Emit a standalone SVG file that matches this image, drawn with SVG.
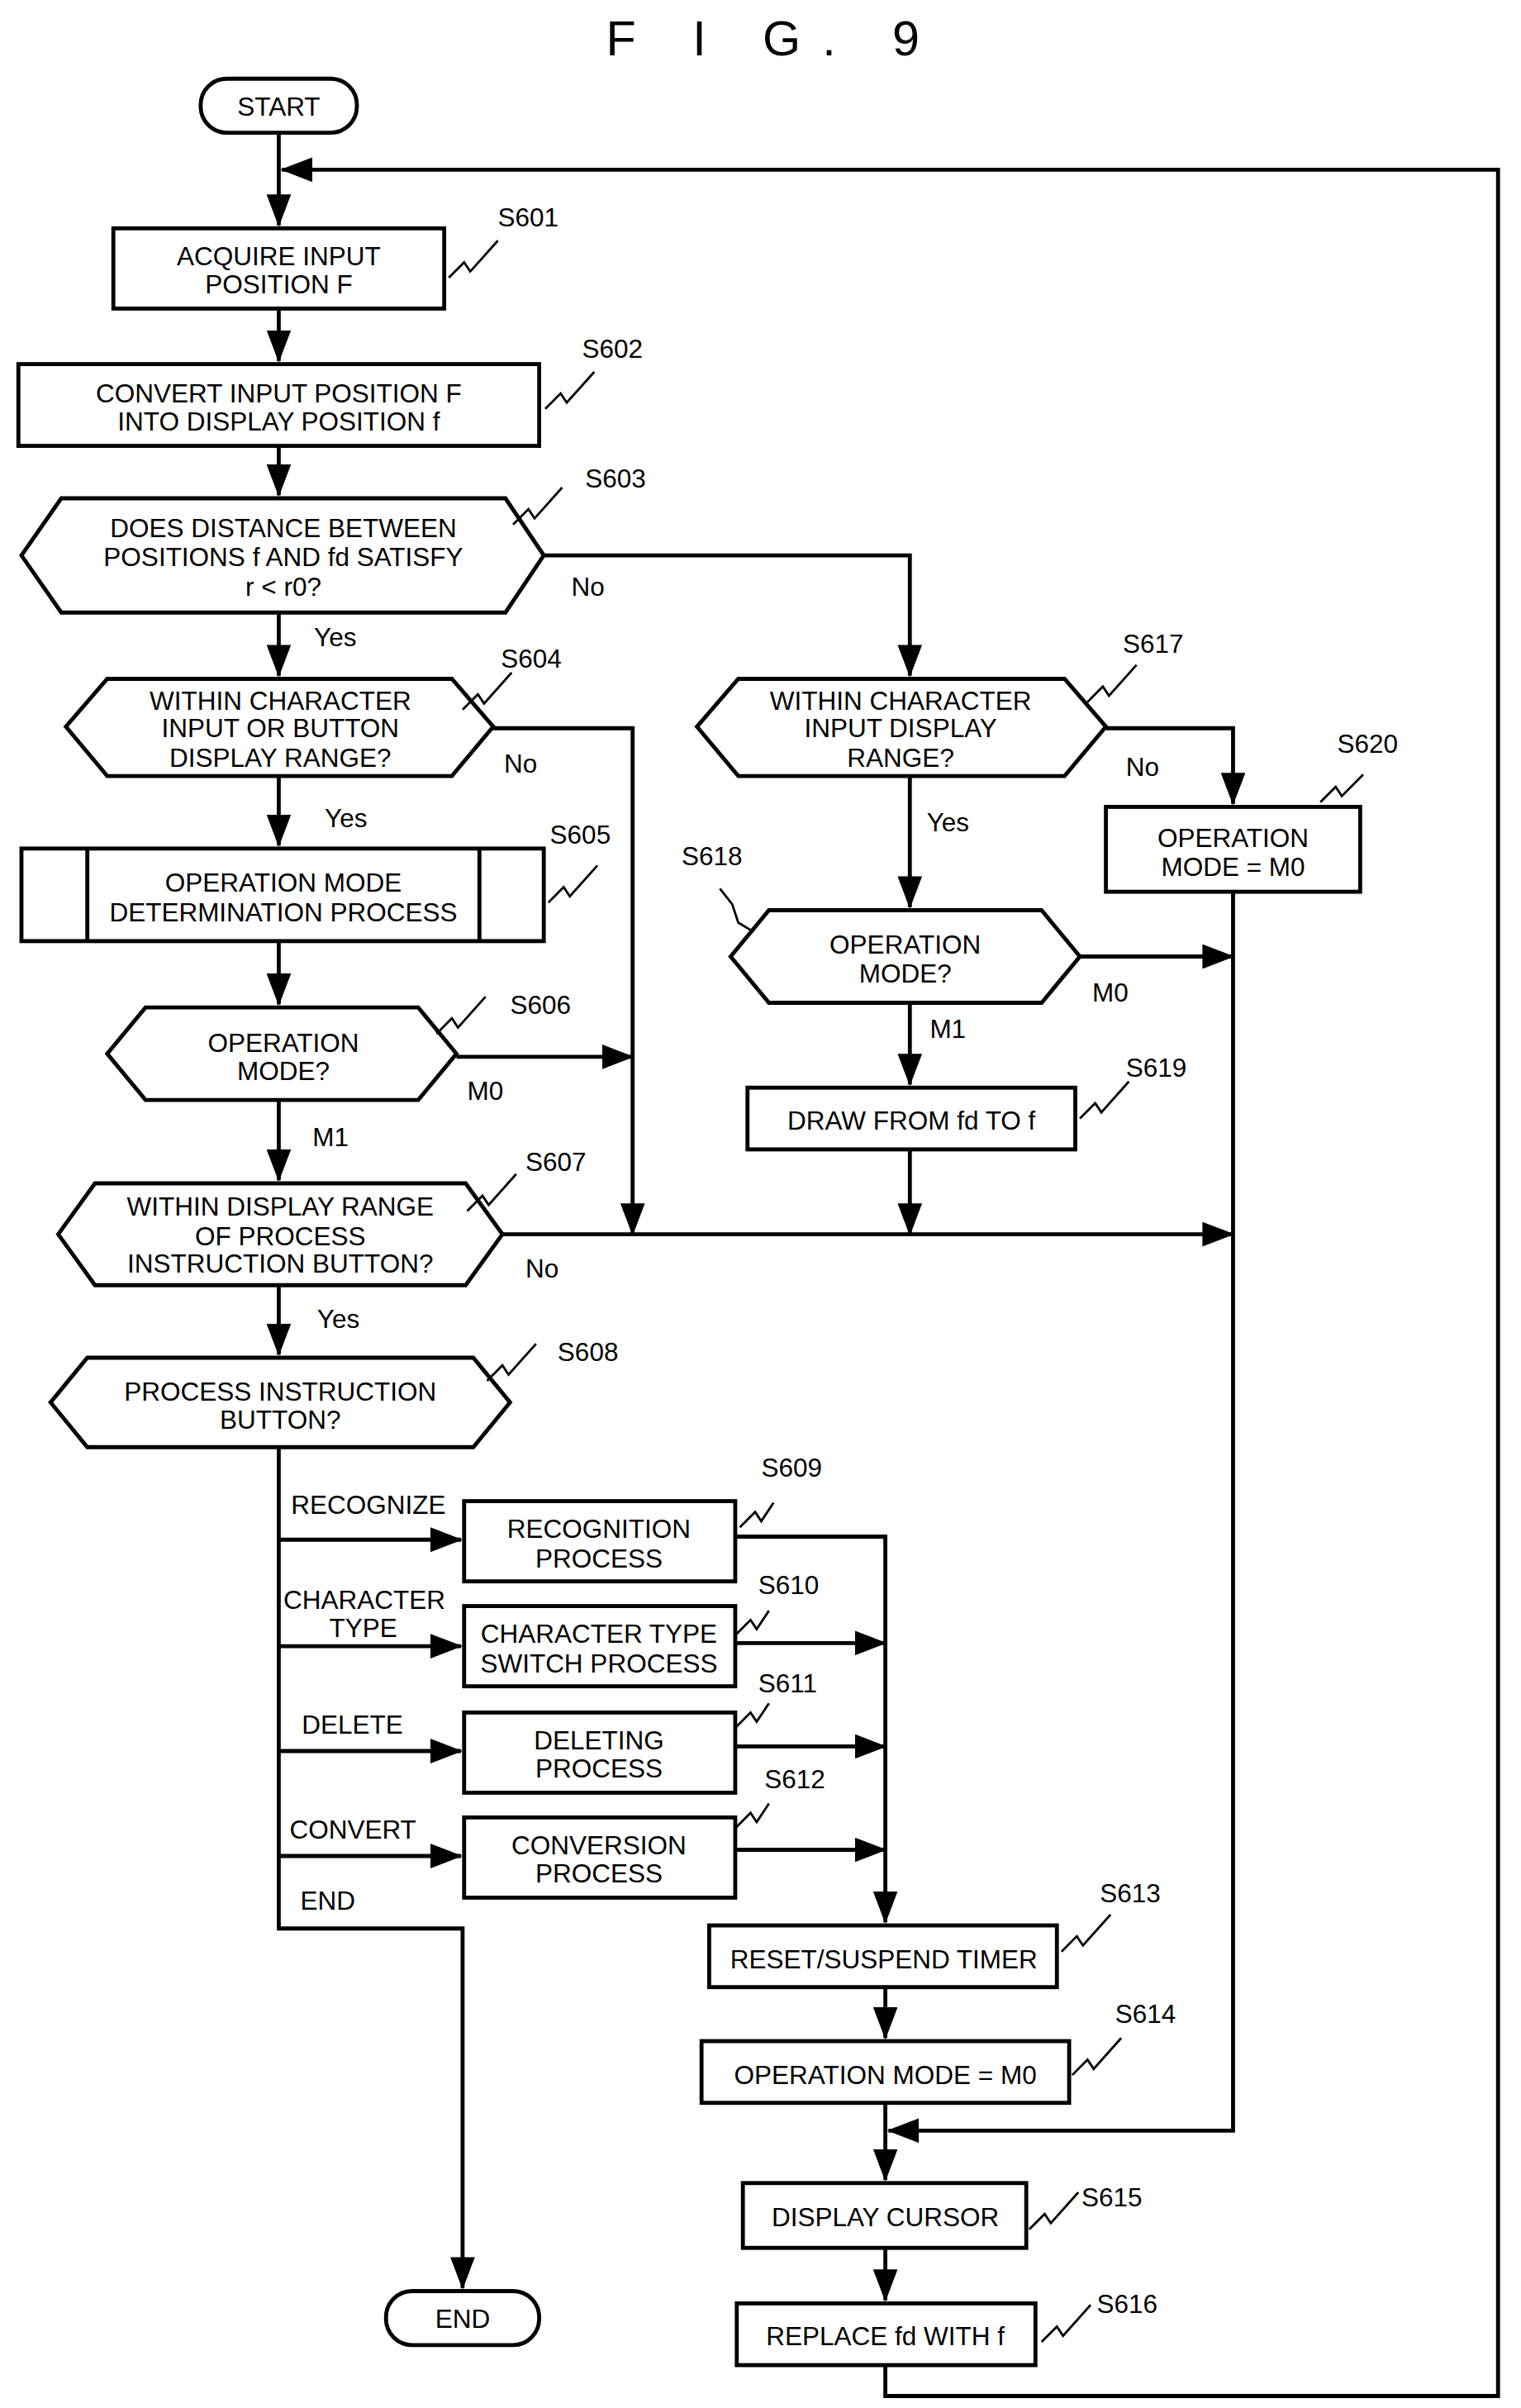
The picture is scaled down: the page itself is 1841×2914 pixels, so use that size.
<svg xmlns="http://www.w3.org/2000/svg" width="1841" height="2914" viewBox="0 0 1841 2914">
<defs>
<style>
.b{fill:#fff;stroke:#000;stroke-width:2.6}
.l{fill:none;stroke:#000;stroke-width:2.6}
.s{fill:none;stroke:#000;stroke-width:1.5}
text{font-family:"Liberation Sans",Arial,sans-serif;font-size:17px;fill:#000}
.c{text-anchor:middle}
</style>
<marker id="a" markerUnits="userSpaceOnUse" markerWidth="22" markerHeight="16" refX="20" refY="8" orient="auto"><path d="M0,0 L21,8 L0,16 Z" fill="#000"/></marker>
</defs>
<rect width="1841" height="2914" fill="#fff"/>
<g transform="scale(1.854 1.867)">
<text x="505" y="36" class="c" style="font-size:32px;letter-spacing:14px">F I G. 9</text>
<g id="connectors" class="l">
<path class="l" d="M182,86V146" marker-end="url(#a)"/>
<path class="l" d="M578,1533V1553H978V110H184" marker-end="url(#a)"/>
<path class="l" d="M182,200V234" marker-end="url(#a)"/>
<path class="l" d="M182,289V321" marker-end="url(#a)"/>
<path class="l" d="M182,397V438" marker-end="url(#a)"/>
<path class="l" d="M355,360H594V438" marker-end="url(#a)"/>
<path class="l" d="M322,472H413V800" marker-end="url(#a)"/>
<path class="l" d="M182,503V548" marker-end="url(#a)"/>
<path class="l" d="M182,610V651" marker-end="url(#a)"/>
<path class="l" d="M298,685H413" marker-end="url(#a)"/>
<path class="l" d="M182,713V765" marker-end="url(#a)"/>
<path class="l" d="M328,800H805" marker-end="url(#a)"/>
<path class="l" d="M182,833V878" marker-end="url(#a)"/>
<path class="l" d="M182,938V1250H302V1483" marker-end="url(#a)"/>
<path class="l" d="M182,998H301" marker-end="url(#a)"/>
<path class="l" d="M182,1067H301" marker-end="url(#a)"/>
<path class="l" d="M182,1135H301" marker-end="url(#a)"/>
<path class="l" d="M182,1203H301" marker-end="url(#a)"/>
<path class="l" d="M480,996H578V1246" marker-end="url(#a)"/>
<path class="l" d="M480,1065H578" marker-end="url(#a)"/>
<path class="l" d="M480,1132H578" marker-end="url(#a)"/>
<path class="l" d="M480,1199H578" marker-end="url(#a)"/>
<path class="l" d="M578,1288V1321" marker-end="url(#a)"/>
<path class="l" d="M578,1363V1413" marker-end="url(#a)"/>
<path class="l" d="M805,578V1381H580" marker-end="url(#a)"/>
<path class="l" d="M578,1457V1491" marker-end="url(#a)"/>
<path class="l" d="M722,472H805V521" marker-end="url(#a)"/>
<path class="l" d="M594,503V588" marker-end="url(#a)"/>
<path class="l" d="M705,620H805" marker-end="url(#a)"/>
<path class="l" d="M594,650V703" marker-end="url(#a)"/>
<path class="l" d="M594,745V800" marker-end="url(#a)"/>
</g>
<g id="edge-labels">
<text x="205" y="419">Yes</text><text x="373" y="386">No</text>
<text x="329" y="501">No</text><text x="212" y="536">Yes</text>
<text x="305" y="713">M0</text><text x="204" y="743">M1</text>
<text x="343" y="828">No</text><text x="207" y="861">Yes</text>
<text x="190" y="981">RECOGNIZE</text>
<text x="185" y="1043">CHARACTER</text><text x="215" y="1061">TYPE</text>
<text x="197" y="1124">DELETE</text><text x="189" y="1192">CONVERT</text><text x="196" y="1238">END</text>
<text x="735" y="503">No</text><text x="605" y="539">Yes</text>
<text x="713" y="649">M0</text><text x="607" y="673">M1</text>
</g>
<g id="start"><rect class="b" x="131" y="51" width="102" height="35" rx="17"/><text x="182" y="75" class="c">START</text></g>
<g id="S601"><rect class="b" x="74" y="148" width="216" height="52"/><text x="182" y="172" class="c">ACQUIRE INPUT</text><text x="182" y="190" class="c">POSITION F</text><path class="s" d="M293,180l10,-10 4,6 18,-20"/><text x="325" y="147">S601</text></g>
<g id="S602"><rect class="b" x="12" y="236" width="340" height="53"/><text x="182" y="261" class="c">CONVERT INPUT POSITION F</text><text x="182" y="279" class="c">INTO DISPLAY POSITION f</text><path class="s" d="M356,265l10,-10 4,6 18,-20"/><text x="380" y="232">S602</text></g>
<g id="S603"><path class="b" d="M14,360L40,323H330L355,360L330,397H40Z"/><text x="185" y="348" class="c">DOES DISTANCE BETWEEN</text><text x="185" y="367" class="c">POSITIONS f AND fd SATISFY</text><text x="185" y="386" class="c">r &lt; r0?</text><path class="s" d="M335,340l10,-10 4,6 18,-20"/><text x="382" y="316">S603</text></g>
<g id="S604"><path class="b" d="M43,471L70,440H295L322,471L295,503H70Z"/><text x="183" y="460" class="c">WITHIN CHARACTER</text><text x="183" y="478" class="c">INPUT OR BUTTON</text><text x="183" y="497" class="c">DISPLAY RANGE?</text><path class="s" d="M302,460l10,-10 4,6 18,-20"/><text x="327" y="433">S604</text></g>
<g id="S605"><rect class="b" x="14" y="550" width="341" height="60"/><path class="l" d="M57,550V610M313,550V610"/><text x="185" y="578" class="c">OPERATION MODE</text><text x="185" y="597" class="c">DETERMINATION PROCESS</text><path class="s" d="M358,585l10,-10 4,6 18,-20"/><text x="359" y="547">S605</text></g>
<g id="S606"><path class="b" d="M70,683L95,653H273L298,683L273,713H95Z"/><text x="185" y="682" class="c">OPERATION</text><text x="185" y="700" class="c">MODE?</text><path class="s" d="M285,670l10,-10 4,6 18,-20"/><text x="333" y="657">S606</text></g>
<g id="S607"><path class="b" d="M38,800L62,767H304L328,800L304,833H62Z"/><text x="183" y="788" class="c">WITHIN DISPLAY RANGE</text><text x="183" y="807" class="c">OF  PROCESS</text><text x="183" y="825" class="c">INSTRUCTION BUTTON?</text><path class="s" d="M305,785l10,-10 4,6 18,-20"/><text x="343" y="759">S607</text></g>
<g id="S608"><path class="b" d="M33,909L57,880H309L333,909L309,938H57Z"/><text x="183" y="908" class="c">PROCESS INSTRUCTION</text><text x="183" y="926" class="c">BUTTON?</text><path class="s" d="M318,895l10,-10 4,6 18,-20"/><text x="364" y="882">S608</text></g>
<g id="S609"><rect class="b" x="303" y="973" width="177" height="52"/><text x="391" y="997" class="c">RECOGNITION</text><text x="391" y="1016" class="c">PROCESS</text><path class="s" d="M483,990l10,-10 4,6 8,-12"/><text x="497" y="957">S609</text></g>
<g id="S610"><rect class="b" x="303" y="1041" width="177" height="52"/><text x="391" y="1065" class="c">CHARACTER TYPE</text><text x="391" y="1084" class="c">SWITCH PROCESS</text><path class="s" d="M480,1060l10,-10 4,6 8,-12"/><text x="495" y="1033">S610</text></g>
<g id="S611"><rect class="b" x="303" y="1110" width="177" height="52"/><text x="391" y="1134" class="c">DELETING</text><text x="391" y="1152" class="c">PROCESS</text><path class="s" d="M480,1120l10,-10 4,6 8,-12"/><text x="495" y="1097">S611</text></g>
<g id="S612"><rect class="b" x="303" y="1178" width="177" height="52"/><text x="391" y="1202" class="c">CONVERSION</text><text x="391" y="1220" class="c">PROCESS</text><path class="s" d="M480,1185l10,-10 4,6 8,-12"/><text x="499" y="1159">S612</text></g>
<g id="S613"><rect class="b" x="463" y="1248" width="227" height="40"/><text x="577" y="1276" class="c">RESET/SUSPEND TIMER</text><path class="s" d="M693,1265l10,-10 4,6 18,-20"/><text x="718" y="1233">S613</text></g>
<g id="S614"><rect class="b" x="458" y="1323" width="240" height="40"/><text x="578" y="1351" class="c">OPERATION MODE = M0</text><path class="s" d="M700,1345l10,-10 4,6 18,-20"/><text x="728" y="1311">S614</text></g>
<g id="S615"><rect class="b" x="485" y="1415" width="185" height="42"/><text x="578" y="1443" class="c">DISPLAY CURSOR</text><path class="s" d="M672,1445l10,-10 4,6 18,-20"/><text x="706" y="1430">S615</text></g>
<g id="S616"><rect class="b" x="481" y="1493" width="195" height="40"/><text x="578" y="1520" class="c">REPLACE fd WITH f</text><path class="s" d="M680,1518l10,-10 4,6 18,-20"/><text x="716" y="1499">S616</text></g>
<g id="S617"><path class="b" d="M455,471L482,440H695L722,471L695,503H482Z"/><text x="588" y="460" class="c">WITHIN CHARACTER</text><text x="588" y="478" class="c">INPUT DISPLAY</text><text x="588" y="497" class="c">RANGE?</text><path class="s" d="M710,455l10,-10 4,6 18,-20"/><text x="733" y="423">S617</text></g>
<g id="S618"><path class="b" d="M477,620L502,590H680L705,620L680,650H502Z"/><text x="591" y="618" class="c">OPERATION</text><text x="591" y="637" class="c">MODE?</text><path class="s" d="M470,576l8,10 4,12 10,6"/><text x="445" y="561">S618</text></g>
<g id="S619"><rect class="b" x="488" y="705" width="214" height="40"/><text x="595" y="732" class="c">DRAW FROM fd TO f</text><path class="s" d="M705,725l10,-10 4,6 18,-20"/><text x="735" y="698">S619</text></g>
<g id="S620"><rect class="b" x="722" y="523" width="166" height="55"/><text x="805" y="549" class="c">OPERATION</text><text x="805" y="568" class="c">MODE = M0</text><path class="s" d="M862,520l10,-10 4,6 14,-14"/><text x="873" y="488">S620</text></g>
<g id="end"><rect class="b" x="252" y="1485" width="100" height="35" rx="17"/><text x="302" y="1509" class="c">END</text></g>
</g>
</svg>
